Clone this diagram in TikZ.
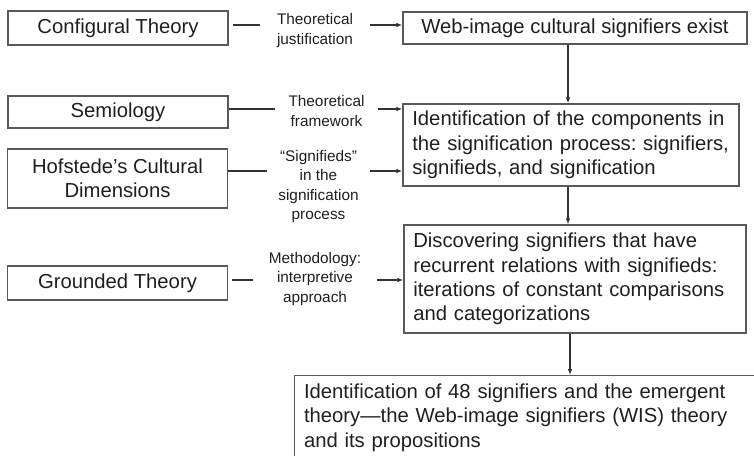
\documentclass[tikz,border=0pt]{standalone}
\usepackage{fontspec}
\setmainfont{Liberation Sans}
\usepackage{tikz}
\usetikzlibrary{calc,shapes,positioning}
\usetikzlibrary{arrows.meta}
\tikzset{>={Latex[length=1.8mm,width=1.4mm]}}
\frenchspacing

\begin{document}
\begin{tikzpicture}[x=0.03cm,y=-0.03cm]
      \useasboundingbox (0,0) rectangle (754,456);
      \clip (0,0) rectangle (754,456);
      \begin{scope}
        \tikzstyle{bnode} = [draw=black!65, line width=1.2pt, rectangle, inner sep = 0pt, text=black!88, font=\fontsize{17.3}{20.8}\selectfont]
        \tikzstyle{lnode} = [bnode, minimum width = 6.6cm, align=center]
        \tikzstyle{rnode} = [bnode, inner xsep = 0.28cm, align=left]
        \tikzstyle{tnode} = [inner sep = 0pt, align=center, text=black!88, font=\fontsize{13.1}{16.5}\selectfont]
        \tikzstyle{conn} = [draw=black!80, line width=1pt]

        \node[lnode, minimum height = 1.02cm] (conf) at (118,28) {Configural Theory};
        \node[lnode, minimum height = 0.96cm] (semi) at (118,112) {Semiology};
        \node[lnode, minimum height = 1.77cm] (hofs) at (117.5,178.5) {Hofstede’s Cultural\\Dimensions};
        \node[lnode, minimum height = 1.02cm] (grnd) at (117.5,283) {Grounded Theory};

        \node[bnode, minimum width = 10.32cm, minimum height = 0.96cm] (web) at (575,28) {Web-image cultural signifiers exist};
        \node[rnode, text width = 9.52cm, minimum height = 2.46cm] (ident) at (571,145)
          {Identification of the components in\\the signification process: signifiers,\\signifieds, and signification};
        \node[rnode, text width = 9.70cm, minimum height = 3.24cm] (disc) at (575,279)
          {Discovering signifiers that have\\recurrent relations with signifieds:\\iterations of constant comparisons\\and categorizations};
        \node[rnode, anchor = north west, inner ysep = 0.24cm, text width = 14cm] (wis) at (294,375)
          {Identification of 48 signifiers and the emergent\\theory—the Web-image signifiers (WIS) theory\\and its propositions};

        \node[tnode, minimum width = 3.3cm] (just) at (315,30.5) {Theoretical\\justification};
        \node[tnode, minimum width = 3.09cm] (frame) at (326.5,111) {Theoretical\\framework};
        \node[tnode, minimum width = 3.09cm] (sgfd) at (318.5,186.5) {“Signifieds”\\in the\\signification\\process};
        \node[tnode, minimum width = 3.72cm] (meth) at (315,279) {Methodology:\\interpretive\\approach};

        \coordinate (r1) at (0,25);
        \coordinate (r2) at (0,109);
        \coordinate (r3) at (0,171);
        \coordinate (r4) at (0,280);
        \coordinate (sp) at (568,0);
        \coordinate (sp2) at (570,0);

        \path[conn]
        (conf.east |- r1) edge[shorten <=0.12cm] (just.west |- r1)
        (semi.east |- r2) edge (frame.west |- r2)
        (hofs.east |- r3) edge (sgfd.west |- r3)
        (grnd.east |- r4) edge[shorten <=0.12cm] (meth.west |- r4)
        (just.east |- r1) edge[->] (web.west |- r1)
        (frame.east |- r2) edge[->] (ident.west |- r2)
        (sgfd.east |- r3) edge[->] (ident.west |- r3)
        (meth.east |- r4) edge[->] (disc.west |- r4)
        (web.south -| sp) edge[->] (ident.north -| sp)
        (ident.south -| sp) edge[->] (disc.north -| sp)
        (disc.south -| sp2) edge[->] (wis.north -| sp2)
        ;
      \end{scope}
\end{tikzpicture}
\end{document}
